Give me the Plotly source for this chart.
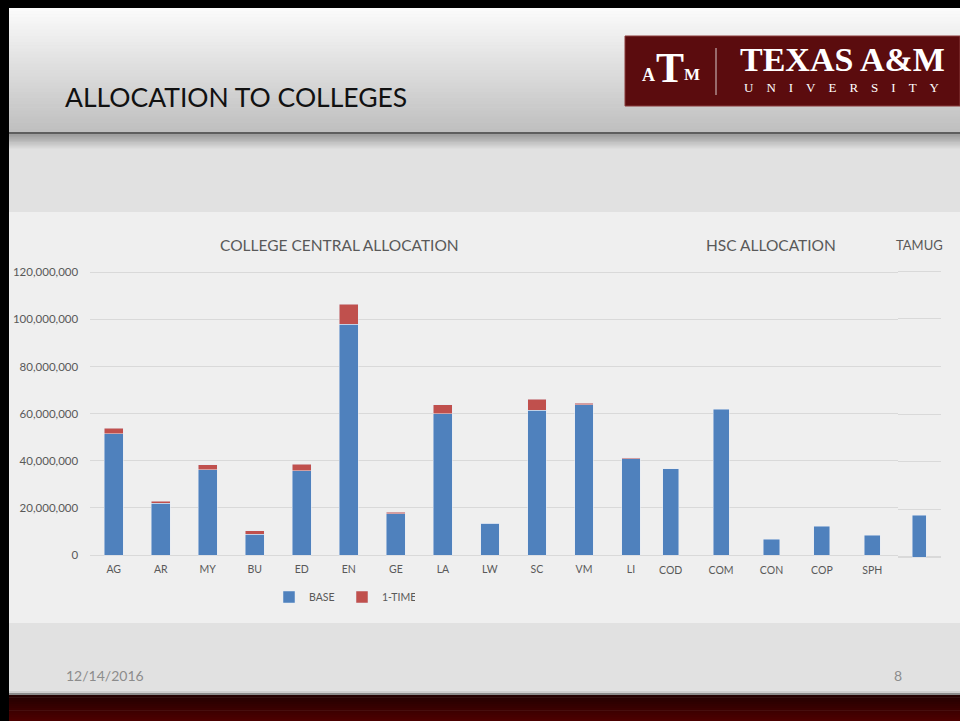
import plotly.graph_objects as go

# ---------------- data ----------------
central_cats = ["AG", "AR", "MY", "BU", "ED", "EN", "GE", "LA", "LW", "SC", "VM", "LI"]
central_base = [51_400_000, 21_900_000, 36_100_000, 8_800_000, 35_700_000, 97_900_000,
                17_500_000, 60_000_000, 13_400_000, 61_400_000, 63_700_000, 40_900_000]
central_onetime = [2_400_000, 1_000_000, 2_200_000, 1_400_000, 2_900_000, 8_600_000,
                   700_000, 3_800_000, 0, 4_800_000, 700_000, 400_000]
hsc_cats = ["COD", "COM", "CON", "COP", "SPH"]
hsc_base = [36_600_000, 61_800_000, 6_700_000, 12_200_000, 8_400_000]
tamug_cats = ["TAMUG"]
tamug_base = [17_700_000]
y_ticks = [0, 20_000_000, 40_000_000, 60_000_000, 80_000_000, 100_000_000, 120_000_000]

W, H = 960, 721
def X(px): return px / W
def Y(py): return 1 - py / H

BLUE = "#4f81bd"
RED = "#c0504d"
GRID = "#d9d9d9"
TXT = "#595959"
FONT = "Lato"

fig = go.Figure()
fig.add_trace(go.Bar(x=central_cats, y=central_base, name="BASE", marker_color=BLUE,
                     width=0.40, xaxis="x", yaxis="y", legendgroup="b"))
fig.add_trace(go.Bar(x=central_cats, y=central_onetime, name="1-TIME", marker_color=RED,
                     width=0.40, xaxis="x", yaxis="y", legendgroup="o"))
fig.add_trace(go.Bar(x=hsc_cats, y=hsc_base, name="BASE", marker_color=BLUE,
                     width=0.32, xaxis="x2", yaxis="y", showlegend=False, legendgroup="b"))
fig.add_trace(go.Bar(x=tamug_cats, y=tamug_base, name="BASE", marker_color=BLUE,
                     width=0.32, xaxis="x3", yaxis="y3", showlegend=False, legendgroup="b"))

# ---------------- background shapes ----------------
shapes = []
def rect(x0, y0, x1, y1, color, layer="below"):
    shapes.append(dict(type="rect", xref="paper", yref="paper", x0=X(x0), x1=X(x1),
                       y0=Y(y1), y1=Y(y0), fillcolor=color, line=dict(width=0), layer=layer))

def lerp(c1, c2, t):
    a = [int(c1[i:i + 2], 16) for i in (1, 3, 5)]
    b = [int(c2[i:i + 2], 16) for i in (1, 3, 5)]
    return "#%02x%02x%02x" % tuple(round(a[k] + (b[k] - a[k]) * t) for k in range(3))

def grad(x0, y0, x1, y1, c1, c2, n=30):
    step = (y1 - y0) / n
    for i in range(n):
        y_end = min(y0 + (i + 1) * step + 0.6, y1)
        rect(x0, y0 + i * step, x1, y_end, lerp(c1, c2, i / (n - 1)))

# body
rect(0, 0, W, H, "#e1e1e1")
# header gradient
grad(0, 8, W, 132, "#fbfbfb", "#bfbfbf", 40)
rect(0, 132, W, 134.5, "#5e5e5e")
grad(0, 134.5, W, 150, "#9e9e9e", "#e1e1e1", 12)
# chart panel
rect(9, 212, W, 623, "#efefef")
# bottom bar
rect(0, 691, W, 693, "#cfcfcf")
rect(0, 693, W, 695, "#8a8a8a")
grad(0, 695, W, H, "#240000", "#4c0000", 12)
# black frame
rect(0, 0, W, 8, "#000000")
rect(0, 0, 9, H, "#000000")
# logo
rect(625, 36, W, 106, "#5b0c0e")
shapes.append(dict(type="rect", xref="paper", yref="paper", x0=X(625), x1=X(W),
                   y0=Y(106), y1=Y(36), line=dict(color="#8a3a3a", width=1), layer="below"))
shapes.append(dict(type="line", xref="paper", yref="paper", x0=X(716), x1=X(716),
                   y0=Y(95), y1=Y(48), line=dict(color="#d8c8c8", width=1), layer="below"))

# ---------------- annotations ----------------
ann = []
def text(x, y, s, size, color, family=FONT, xanchor="left", **kw):
    ann.append(dict(x=X(x), y=Y(y), xref="paper", yref="paper", text=s, showarrow=False,
                    xanchor=xanchor, yanchor="middle",
                    font=dict(size=size, color=color, family=family), **kw))

text(63, 97, "ALLOCATION TO COLLEGES", 26.5, "#111111")
text(339, 245, "COLLEGE CENTRAL ALLOCATION", 15.5, TXT, xanchor="center")
text(771, 245, "HSC ALLOCATION", 15.5, TXT, xanchor="center")
text(919, 245, "TAMUG", 13, TXT, xanchor="center")
text(64, 675, "12/14/2016", 14, "#8c8c8c")
text(898, 675, "8", 14, "#8c8c8c", xanchor="center")
# logo text
text(670, 68, "<b>T</b>", 42, "#ffffff", family="Liberation Serif", xanchor="center")
text(648, 75, "<b>A</b>", 18, "#ffffff", family="Liberation Serif", xanchor="center")
text(692, 75, "<b>M</b>", 17, "#ffffff", family="Liberation Serif", xanchor="center")
text(842, 60, "<b>TEXAS A&amp;M</b>", 34, "#ffffff", family="Liberation Serif",
     xanchor="center")
text(842, 88, "U\u2003N\u2003I\u2003V\u2003E\u2003R\u2003S\u2003I\u2003T\u2003Y", 13,
     "#ffffff", family="Liberation Serif", xanchor="center")

# ---------------- axes ----------------
ymax = 121_000_000
ymin = -300_000
y_top_px = 555 - 121 * 2.356
y_bot_px = 555 + 0.3 * 2.356
ty_top_px = 557.3 - 121 * 2.383
ty_bot_px = 557.3 + 0.3 * 2.383

common_x = dict(showgrid=False, zeroline=False, showline=False, ticks="", automargin=False,
                tickfont=dict(size=10.5, color=TXT, family=FONT), fixedrange=True)
fig.update_layout(
    width=W, height=H, autosize=False,
    margin=dict(l=0, r=0, t=0, b=0, pad=0, autoexpand=False),
    paper_bgcolor="#efefef", plot_bgcolor="rgba(0,0,0,0)",
    barmode="stack", shapes=shapes, annotations=ann,
    font=dict(family=FONT, color=TXT),
    xaxis=dict(domain=[X(90.2), X(654.5)], anchor="y", ticklabelstandoff=6, **common_x),
    xaxis2=dict(domain=[X(645.5), X(897.5)], anchor="y", ticklabelstandoff=7, **common_x),
    xaxis3=dict(domain=[X(897.5), X(941)], anchor="y3", showticklabels=False,
                automargin=False, showgrid=False, zeroline=False, showline=False, ticks=""),
    yaxis=dict(domain=[Y(y_bot_px), Y(y_top_px)], range=[ymin, ymax], anchor="x",
               tickvals=y_ticks, tickformat=",", showgrid=True, gridcolor=GRID, gridwidth=1,
               zeroline=True, zerolinecolor=GRID, zerolinewidth=1, showline=False,
               ticks="", ticklabelstandoff=11, automargin=False,
               tickfont=dict(size=11.5, color=TXT, family=FONT)),
    yaxis3=dict(domain=[Y(ty_bot_px), Y(ty_top_px)], range=[ymin, ymax], anchor="x3",
                tickvals=y_ticks, showticklabels=False, showgrid=True, gridcolor=GRID,
                automargin=False, zeroline=True, zerolinecolor=GRID, showline=False,
                ticks=""),
    legend=dict(orientation="h", x=X(342), y=Y(597), xanchor="center", yanchor="middle",
                bgcolor="rgba(0,0,0,0)", font=dict(size=10.5, color=TXT, family=FONT),
                itemwidth=30, traceorder="normal", entrywidth=28),
    bargap=0.6,
)

post = """
document.documentElement.style.margin='0';
document.body.style.margin='0';
document.body.style.overflow='hidden';
window.scrollTo(0,0);
"""
fig.write_html("out.html", config={"displayModeBar": False}, post_script=post)
